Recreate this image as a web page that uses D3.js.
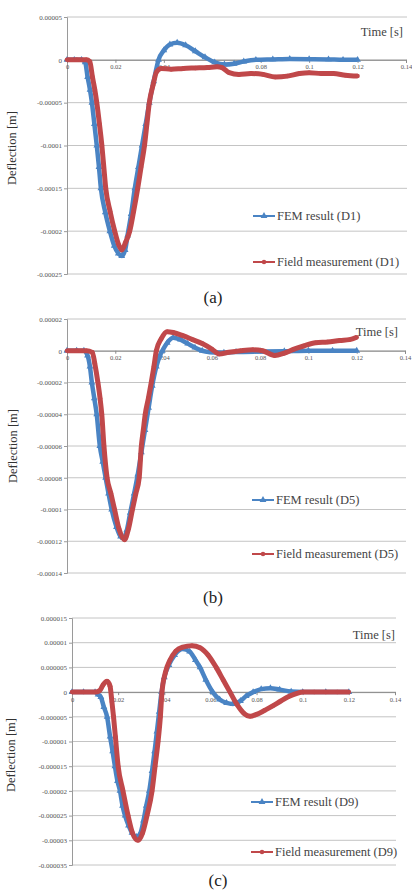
<!DOCTYPE html>
<html lang="en">
  <head>
    <meta charset="utf-8">
    <title>Deflection D1 D5 D9</title>
    <script src="https://d3js.org/d3.v7.min.js"></script>
    <style>
      body { margin: 0; background: #fff; }
      svg { display: block; }
      svg text { font-family: "Liberation Serif", "DejaVu Serif", serif !important; }
    </style>
  </head>
  <body>
    <div class="chart"></div>

    <script type="text/javascript">
      // values, [time s, deflection m]
      const xTicks = [0, 0.02, 0.04, 0.06, 0.08, 0.1, 0.12, 0.14];

      const yTicksA = [0.00005, 0, -0.00005, -0.0001, -0.00015, -0.0002, -0.00025];
      const yTicksB = [0.00002, 0, -0.00002, -0.00004, -0.00006, -0.00008, -0.0001, -0.00012, -0.00014];
      const yTicksC = [0.000015, 0.00001, 0.000005, 0, -0.000005, -0.00001, -0.000015, -0.00002, -0.000025, -0.00003, -0.000035];

      const femA = [[0,0],[0.003,0],[0.006,0],[0.0075,-0.000003],[0.0085,-0.00002],[0.0095,-0.000035],[0.0103,-0.00005],[0.0113,-0.000075],[0.0123,-0.0001],[0.0132,-0.000125],[0.014,-0.00015],[0.0158,-0.000178],[0.0177,-0.0002],[0.0195,-0.000217],[0.0212,-0.000226],[0.0226,-0.000229],[0.024,-0.000222],[0.025,-0.000205],[0.0265,-0.00018],[0.028,-0.00015],[0.0295,-0.000125],[0.031,-0.0001],[0.0325,-0.000075],[0.034,-0.00005],[0.0358,-0.000025],[0.0378,0],[0.04,0.000011],[0.0425,0.000018],[0.0455,0.00002],[0.049,0.000017],[0.053,0.00001],[0.057,0.000003],[0.061,-0.000003],[0.065,-0.0000055],[0.069,-0.0000045],[0.073,-0.000002],[0.078,0],[0.085,0.0000005],[0.092,0.000001],[0.1,0.0000008],[0.108,0.0000005],[0.114,0],[0.12,0]];
      const fieldA = [[0,0],[0.004,0],[0.008,0],[0.0094,-0.000002],[0.0105,-0.00002],[0.0115,-0.000035],[0.0123,-0.00005],[0.0134,-0.000075],[0.0144,-0.0001],[0.0152,-0.000125],[0.016,-0.00015],[0.0178,-0.000177],[0.0197,-0.0002],[0.0212,-0.000215],[0.0226,-0.000222],[0.0242,-0.000213],[0.0259,-0.0002],[0.0275,-0.000177],[0.0292,-0.00015],[0.0306,-0.000125],[0.032,-0.0001],[0.033,-0.000075],[0.034,-0.00005],[0.0355,-0.00003],[0.037,-0.000014],[0.039,-0.00001],[0.043,-0.000011],[0.048,-0.00001],[0.053,-0.0000095],[0.058,-0.000009],[0.062,-0.000008],[0.064,-0.000009],[0.067,-0.000015],[0.071,-0.000017],[0.076,-0.000016],[0.081,-0.000017],[0.086,-0.00002],[0.091,-0.000019],[0.096,-0.000016],[0.1,-0.000015],[0.105,-0.000016],[0.11,-0.000016],[0.115,-0.000018],[0.12,-0.000019]];

      const femB = [[0,0],[0.004,0],[0.007,0],[0.0085,-0.000003],[0.0095,-0.00001],[0.0103,-0.00002],[0.0113,-0.00003],[0.0123,-0.00004],[0.0136,-0.00006],[0.0148,-0.00007],[0.016,-0.00008],[0.0172,-0.00009],[0.0185,-0.0001],[0.0205,-0.000111],[0.0222,-0.000117],[0.0234,-0.000118],[0.0248,-0.000113],[0.0262,-0.000102],[0.0278,-0.00009],[0.0293,-0.000078],[0.0308,-0.000064],[0.0323,-0.00005],[0.0338,-0.000036],[0.0353,-0.000022],[0.037,-0.00001],[0.0385,-0.000003],[0.0395,0],[0.0415,0.000005],[0.044,0.0000082],[0.047,0.000007],[0.05,0.0000045],[0.053,0.000002],[0.056,0],[0.06,-0.000001],[0.065,-0.0000012],[0.07,-0.0000008],[0.08,-0.0000005],[0.09,-0.0000003],[0.1,0],[0.11,0],[0.12,0]];
      const fieldB = [[0,0],[0.004,0],[0.008,0],[0.0105,-0.000001],[0.0115,-0.000008],[0.0128,-0.00002],[0.0137,-0.00003],[0.0144,-0.00004],[0.0153,-0.00006],[0.0166,-0.00008],[0.0182,-0.00009],[0.0197,-0.0001],[0.0215,-0.000112],[0.0238,-0.000119],[0.0255,-0.000112],[0.0271,-0.0001],[0.0285,-0.00009],[0.0299,-0.00008],[0.0308,-0.00006],[0.0316,-0.00005],[0.0324,-0.00004],[0.0337,-0.00003],[0.0349,-0.00002],[0.036,-0.00001],[0.037,0],[0.039,0.0000075],[0.0415,0.000012],[0.044,0.0000115],[0.048,0.0000095],[0.052,0.000007],[0.056,0.0000045],[0.06,0.000001],[0.063,-0.000002],[0.067,-0.000001],[0.072,0],[0.077,0.0000006],[0.081,0],[0.086,-0.000003],[0.09,-0.0000015],[0.094,0.000001],[0.098,0.000003],[0.103,0.000005],[0.108,0.0000055],[0.113,0.0000065],[0.117,0.000007],[0.12,0.0000085]];

      const femC = [[0,0],[0.005,0],[0.01,0],[0.0113,-0.0000005],[0.0125,-0.000001],[0.0138,-0.000003],[0.0152,-0.000005],[0.0165,-0.000009],[0.0176,-0.000012],[0.0186,-0.000015],[0.0197,-0.000018],[0.0208,-0.00002],[0.0219,-0.000023],[0.023,-0.000025],[0.0245,-0.000027],[0.026,-0.0000285],[0.028,-0.0000293],[0.0297,-0.0000285],[0.031,-0.000026],[0.0322,-0.000023],[0.0335,-0.00002],[0.0347,-0.000016],[0.0358,-0.000012],[0.0368,-0.000008],[0.0378,-0.000004],[0.0388,0],[0.04,0.000003],[0.042,0.0000055],[0.0445,0.0000075],[0.048,0.0000087],[0.051,0.0000082],[0.0535,0.0000065],[0.0555,0.000005],[0.058,0.0000025],[0.061,0],[0.064,-0.0000015],[0.067,-0.0000022],[0.0698,-0.0000024],[0.073,-0.0000018],[0.0755,-0.0000008],[0.0785,0],[0.082,0.0000006],[0.086,0.0000008],[0.09,0.0000005],[0.095,0.0000001],[0.1,0],[0.11,0],[0.12,0]];
      const fieldC = [[0,0],[0.005,0],[0.01,0],[0.012,0.0000003],[0.0135,0.0000015],[0.0152,0.0000022],[0.0165,0.0000012],[0.0173,-0.000002],[0.018,-0.000005],[0.0188,-0.000009],[0.02,-0.000015],[0.0221,-0.00002],[0.0243,-0.000025],[0.0262,-0.0000285],[0.0286,-0.00003],[0.0306,-0.0000285],[0.0325,-0.000025],[0.0347,-0.00002],[0.036,-0.000015],[0.0373,-0.00001],[0.0383,-0.000005],[0.039,0],[0.0405,0.000004],[0.0425,0.0000065],[0.045,0.0000083],[0.048,0.0000091],[0.052,0.0000094],[0.0555,0.000009],[0.059,0.0000075],[0.0625,0.000005],[0.0655,0.0000025],[0.0685,0],[0.0715,-0.0000025],[0.0745,-0.0000043],[0.0772,-0.0000049],[0.08,-0.0000045],[0.0835,-0.0000037],[0.087,-0.0000028],[0.0905,-0.0000018],[0.0935,-0.000001],[0.0965,-0.0000004],[0.1,0],[0.105,0],[0.11,0],[0.115,0],[0.12,0]];

      const blue = '#4a84c4';
      const red = '#c0484a';
      const serif = '"Liberation Serif", "DejaVu Serif", serif';

      const width = 412, height = 892;

      const svg = d3.select('.chart')
          .append('svg')
          .attr('width', width)
          .attr('height', height);

      // strip trailing zeros the way Excel shows them
      const fmt = v => v === 0 ? '0' : v.toFixed(7).replace(/0+$/, '').replace(/\.$/, '');

      function panel(p) {
          const g = svg.append('g');

          const xScale = d3.scaleLinear().domain([0, 0.14]).range([p.left, p.right]);
          const yScale = d3.scaleLinear().domain(d3.extent(p.yTicks)).range([p.bottom, p.top]);

          // gridlines
          g.selectAll('.grid')
              .data(p.yTicks)
              .enter()
              .append('line')
              .attr('x1', p.left)
              .attr('x2', p.right + 1)
              .attr('y1', d => yScale(d))
              .attr('y2', d => yScale(d))
              .attr('stroke', '#c4c4c4')
              .attr('stroke-width', 1);

          // y axis
          const yAxis = d3.axisLeft(yScale)
              .tickValues(p.yTicks)
              .tickSize(3)
              .tickFormat(fmt);
          const ya = g.append('g')
              .attr('transform', `translate(${p.left},0)`)
              .call(yAxis)
              .attr('font-family', serif);
          ya.select('.domain').attr('stroke', '#9a9a9a');
          ya.selectAll('.tick line').attr('stroke', '#9a9a9a');
          ya.selectAll('.tick text')
              .attr('font-size', 7)
              .attr('fill', '#555')
              .attr('x', -5);

          // x axis on the zero line
          const xAxis = d3.axisBottom(xScale)
              .tickValues(xTicks)
              .tickSize(3)
              .tickFormat(d => d === 0 ? '0' : String(+d.toFixed(2)));
          const xa = g.append('g')
              .attr('transform', `translate(0,${yScale(0)})`)
              .call(xAxis)
              .attr('font-family', serif);
          xa.select('.domain').attr('stroke', '#8a8a8a');
          xa.selectAll('.tick line').attr('stroke', '#8a8a8a');
          xa.selectAll('.tick text')
              .attr('font-size', 6.5)
              .attr('fill', '#555')
              .attr('y', 5);

          const line = d3.line()
              .x(d => xScale(d[0]))
              .y(d => yScale(d[1]))
              .curve(d3.curveMonotoneX);

          const tri = d3.symbol().type(d3.symbolTriangle).size(20);
          const dot = d3.symbol().type(d3.symbolCircle).size(16);

          // FEM series
          g.append('path')
              .datum(p.fem)
              .attr('d', line)
              .attr('fill', 'none')
              .attr('stroke', blue)
              .attr('stroke-width', 4.5);
          g.selectAll('.fem')
              .data(p.fem)
              .enter()
              .append('path')
              .attr('d', tri)
              .attr('transform', d => `translate(${xScale(d[0])},${yScale(d[1])})`)
              .attr('fill', blue);

          // field measurement series
          g.append('path')
              .datum(p.field)
              .attr('d', line)
              .attr('fill', 'none')
              .attr('stroke', red)
              .attr('stroke-width', 5);
          g.selectAll('.field')
              .data(p.field)
              .enter()
              .append('path')
              .attr('d', dot)
              .attr('transform', d => `translate(${xScale(d[0])},${yScale(d[1])})`)
              .attr('fill', red);

          g.append('text')
              .attr('x', p.timeX)
              .attr('y', p.timeY)
              .attr('text-anchor', 'end')
              .attr('font-size', 12.5)
              .attr('fill', '#444')
              .text('Time [s]');

          g.append('text')
              .attr('transform', `translate(${p.titleX},${p.titleY}) rotate(-90)`)
              .attr('text-anchor', 'middle')
              .attr('font-size', 12.5)
              .attr('fill', '#333')
              .text('Deflection [m]');

          // legend
          const items = [
              {name: 'FEM result (' + p.id + ')', color: blue, sym: tri, y: p.legY[0]},
              {name: 'Field measurement (' + p.id + ')', color: red, sym: dot, y: p.legY[1]}
          ];
          items.forEach(it => {
              g.append('line')
                  .attr('x1', p.legX).attr('x2', p.legX + 22)
                  .attr('y1', it.y).attr('y2', it.y)
                  .attr('stroke', it.color)
                  .attr('stroke-width', 2);
              g.append('path')
                  .attr('d', it.sym)
                  .attr('transform', `translate(${p.legX + 11},${it.y})`)
                  .attr('fill', it.color);
              g.append('text')
                  .attr('x', p.legX + 24)
                  .attr('y', it.y + 4)
                  .attr('font-size', 12.5)
                  .attr('fill', '#444')
                  .text(it.name);
          });

          g.append('text')
              .attr('x', p.capX)
              .attr('y', p.capY)
              .attr('text-anchor', 'middle')
              .attr('font-size', 17)
              .attr('fill', '#222')
              .text(p.caption);
      }

      panel({id: 'D1', caption: '(a)', fem: femA, field: fieldA, yTicks: yTicksA,
             left: 67, right: 406, top: 17, bottom: 274,
             timeX: 403, timeY: 36, titleX: 16, titleY: 148,
             legX: 253, legY: [216, 262], capX: 213, capY: 303});

      panel({id: 'D5', caption: '(b)', fem: femB, field: fieldB, yTicks: yTicksB,
             left: 67, right: 405, top: 319, bottom: 573,
             timeX: 398, timeY: 336, titleX: 17, titleY: 446,
             legX: 252, legY: [500, 554], capX: 213, capY: 603});

      panel({id: 'D9', caption: '(c)', fem: femC, field: fieldC, yTicks: yTicksC,
             left: 72, right: 395, top: 618, bottom: 865,
             timeX: 395, timeY: 639, titleX: 15, titleY: 755,
             legX: 251, legY: [802, 852], capX: 218, capY: 886});
    </script>
  </body>
</html>
